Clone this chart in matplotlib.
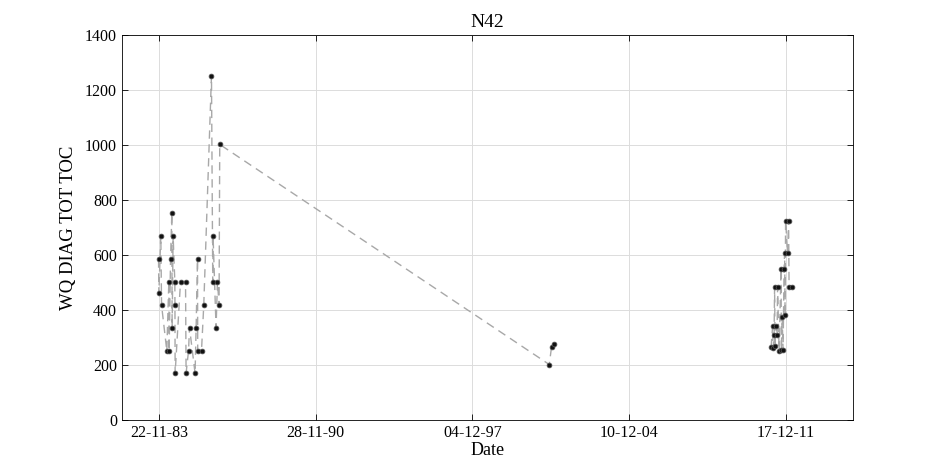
import numpy as np
import pandas as pd
import matplotlib
matplotlib.use("Agg")
from matplotlib import pyplot as plt
import matplotlib.dates as mdates

plt.rcParams['font.family'] = 'serif'
plt.rcParams['font.serif'] = ['Liberation Serif']

# sample dates and TOC values
dates = [
    "1983-11-17", "1983-11-22", "1983-12-24", "1984-01-05", "1984-03-31",
    "1984-05-03", "1984-05-08", "1984-05-31", "1984-06-21", "1984-06-26",
    "1984-07-12", "1984-08-09", "1984-08-11", "1984-08-14", "1984-11-10",
    "1985-01-31", "1985-02-09", "1985-03-21", "1985-04-06", "1985-07-06",
    "1985-07-23", "1985-08-15", "1985-08-18", "1985-10-19", "1985-11-25",
    "1986-03-31", "1986-04-21", "1986-04-26", "1986-06-14", "1986-07-07",
    "1986-08-02", "1986-08-13",
    "2001-05-12", "2001-06-19", "2001-08-02",
    "2011-04-16", "2011-05-11", "2011-05-19", "2011-06-04", "2011-06-12",
    "2011-06-20", "2011-06-29", "2011-07-23", "2011-07-31", "2011-08-25",
    "2011-09-26", "2011-10-01", "2011-10-13", "2011-10-29", "2011-11-14",
    "2011-11-23", "2011-12-01", "2011-12-09", "2012-01-10", "2012-01-27",
    "2012-02-04", "2012-03-24",
]
toc = [
    584, 461, 670, 418, 252,
    503, 252, 584, 752, 336,
    670, 503, 418, 170, 503,
    503, 170, 252, 336, 170,
    336, 584, 252, 252, 418,
    1252, 503, 670, 336, 503,
    418, 1002,
    202, 267, 275,
    265, 342, 262, 308, 483,
    268, 342, 308, 483, 252,
    550, 255, 375, 255, 550,
    608, 383, 725, 608, 725,
    483, 483,
]
# the line is broken before this sample (no link 2001 -> 2011)
gap_before = "2011-04-16"

tick_dates = ["1983-11-22", "1990-11-28", "1997-12-04", "2004-12-10", "2011-12-17"]
x_range = ["1982-03-28", "2014-12-14"]

t = pd.to_datetime(dates)
y = np.array(toc, dtype=float)
cut = int(np.searchsorted(t, pd.to_datetime(gap_before)))

fig = plt.figure(figsize=(9.45, 4.72), dpi=100)
ax = fig.add_axes([0.129, 0.110, 0.7736, 0.816])

for sl in (slice(0, cut), slice(cut, None)):
    ax.plot(t[sl], y[sl], linestyle=(0, (6, 4)), color='#a8a8a8', linewidth=1.0, zorder=2)
ax.plot(t, y, linestyle='none', marker='o', markersize=3.4,
        markerfacecolor='#111111', markeredgecolor='#505050', markeredgewidth=0.6, zorder=3)

ax.set_xlim(pd.to_datetime(x_range))
ax.set_ylim(0, 1400)
ax.set_yticks(np.arange(0, 1401, 200))
ax.set_xticks(pd.to_datetime(tick_dates))
ax.xaxis.set_major_formatter(mdates.DateFormatter('%d-%m-%y'))

ax.grid(True, color='#dcdcdc', linewidth=0.7)
ax.set_axisbelow(True)
ax.tick_params(direction='in', top=True, right=True, length=4, labelsize=11.5, width=0.6)
for s in ax.spines.values():
    s.set_linewidth(0.6)

ax.set_title('N42', fontsize=14)
ax.set_xlabel('Date', fontsize=13, labelpad=1)
ax.set_ylabel('WQ DIAG TOT TOC', fontsize=13.5, labelpad=6)

fig.savefig('out.png', dpi=100)
